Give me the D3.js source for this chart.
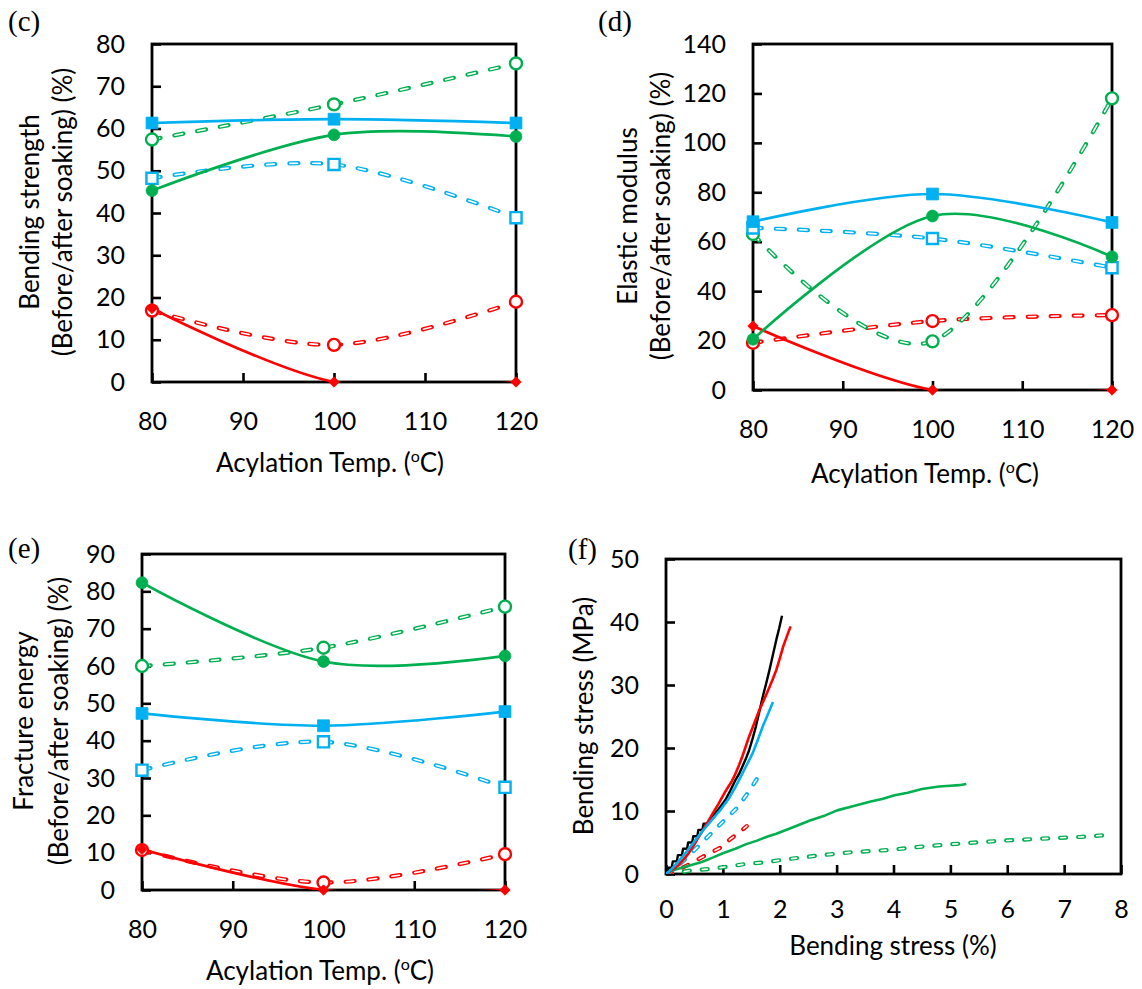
<!DOCTYPE html>
<html>
<head>
<meta charset="utf-8">
<script src="https://cdn.jsdelivr.net/npm/d3@7"></script>
<style>
  body { margin: 0; background: #fff; }
  svg { display: block; }
</style>
</head>
<body>
<svg id="fig" width="1142" height="989"></svg>
<script>
// ---------- data ----------
const temps = [80, 100, 120];
const tempTicks = [80, 90, 100, 110, 120];

// (c) bending strength, before/after soaking (%)
const strengthRedOpen    = [16.9, 8.8, 19.0];
const strengthGreenOpen  = [57.4, 65.7, 75.4];
const strengthBlueOpen   = [48.2, 51.5, 38.9];
const strengthRed        = [17.4, 0, 0];
const strengthGreen      = [45.3, 58.5, 58.1];
const strengthBlue       = [61.3, 62.2, 61.3];
const strengthTicks      = [0, 10, 20, 30, 40, 50, 60, 70, 80];

// (d) elastic modulus, before/after soaking (%)
const modulusRedOpen     = [19.1, 27.9, 30.3];
const modulusGreenOpen   = [63.1, 19.7, 118.0];
const modulusBlueOpen    = [65.6, 61.3, 49.5];
const modulusRed         = [25.9, 0, 0];
const modulusGreen       = [20.5, 70.4, 53.9];
const modulusBlue        = [68.1, 79.3, 67.8];
const modulusTicks       = [0, 20, 40, 60, 80, 100, 120, 140];

// (e) fracture energy, before/after soaking (%)
const energyRedOpen      = [10.7, 2.0, 9.6];
const energyGreenOpen    = [60.0, 64.9, 75.9];
const energyBlueOpen     = [32.1, 39.7, 27.5];
const energyRed          = [10.9, 0, 0];
const energyGreen        = [82.3, 61.2, 62.7];
const energyBlue         = [47.3, 44.0, 47.8];
const energyTicks        = [0, 10, 20, 30, 40, 50, 60, 70, 80, 90];

// (f) stress-strain curves
const strainTicks = [0, 1, 2, 3, 4, 5, 6, 7, 8];
const stressTicks = [0, 10, 20, 30, 40, 50];

const blackStrain = [0, 0.02, 0.04, 0.10, 0.12, 0.19, 0.21, 0.28, 0.30, 0.37, 0.39, 0.46, 0.48, 0.55, 0.57, 0.64, 0.66, 0.74, 0.80, 0.86, 0.95, 1.04, 1.13, 1.22, 1.28, 1.34, 1.40, 1.46, 1.52, 1.58, 1.64, 1.70, 1.76, 1.82, 1.88, 1.94, 1.99, 2.04];
const blackStress = [0, 0.2, 1.0, 1.0, 2.0, 2.0, 3.0, 3.0, 4.0, 4.0, 5.0, 5.0, 6.0, 6.0, 7.0, 7.0, 8.0, 8.0, 9.0, 9.6, 10.6, 11.7, 13.2, 14.9, 15.8, 17.0, 18.2, 19.6, 21.4, 23.4, 25.7, 28.1, 30.2, 32.4, 34.8, 37.2, 39.0, 41.0];

const redStrain = [0, 0.10, 0.21, 0.30, 0.39, 0.48, 0.57, 0.66, 0.75, 0.84, 0.92, 1.00, 1.07, 1.15, 1.22, 1.28, 1.34, 1.40, 1.46, 1.55, 1.64, 1.73, 1.82, 1.88, 1.94, 2.00, 2.06, 2.12, 2.19];
const redStress = [0, 0.6, 1.3, 2.2, 3.2, 4.4, 5.8, 7.1, 8.5, 9.9, 11.1, 12.4, 13.5, 14.6, 15.9, 17.2, 18.6, 20.2, 21.8, 23.9, 26.0, 27.8, 29.7, 31.0, 32.4, 34.2, 36.1, 37.6, 39.3];

const blueStrain = [0, 0.10, 0.20, 0.35, 0.51, 0.65, 0.80, 0.95, 1.10, 1.22, 1.34, 1.43, 1.52, 1.61, 1.70, 1.79, 1.88];
const blueStress = [0, 0.8, 1.8, 3.4, 5.3, 6.9, 8.5, 10.1, 11.9, 13.8, 15.9, 17.5, 19.1, 21.2, 23.4, 25.3, 27.3];

const greenStrain = [0, 0.10, 0.20, 0.40, 0.63, 0.82, 1.00, 1.22, 1.40, 1.60, 1.80, 1.94, 2.20, 2.53, 2.80, 3.01, 3.30, 3.60, 3.80, 4.02, 4.25, 4.50, 4.80, 5.00, 5.15, 5.28];
const greenStress = [0, 0.5, 0.8, 1.3, 1.9, 2.6, 3.3, 4.0, 4.7, 5.3, 6.0, 6.4, 7.3, 8.5, 9.3, 10.1, 10.8, 11.5, 11.9, 12.5, 12.9, 13.5, 13.9, 14.0, 14.1, 14.3];

const blueOpenStrain = [0, 0.20, 0.40, 0.59, 0.79, 1.00, 1.24, 1.45, 1.62, 1.71];
const blueOpenStress = [0, 1.2, 2.9, 4.6, 6.4, 8.3, 10.4, 13.0, 15.4, 16.6];

const redOpenStrain = [0, 0.20, 0.38, 0.62, 0.94, 1.14, 1.30, 1.42];
const redOpenStress = [0, 0.6, 1.4, 2.6, 4.1, 5.6, 6.7, 7.6];

const greenOpenStrain = [0, 0.20, 0.42, 0.75, 1.10, 1.40, 1.76, 2.06, 2.65, 3.25, 3.90, 4.56, 5.28, 5.93, 6.59, 7.30, 7.87];
const greenOpenStress = [0, 0.2, 0.53, 0.8, 1.17, 1.6, 1.86, 2.28, 2.9, 3.45, 3.8, 4.4, 4.9, 5.3, 5.6, 5.9, 6.26];

// ---------- styling ----------
const SANS = "Lato, 'Open Sans', 'DejaVu Sans', sans-serif";
const SERIF = "'Liberation Serif', 'Times New Roman', serif";
const BLUE = '#00B0F0', GREEN = '#00B050', RED = '#FF0000', BLACK = '#000000';
const TICK_FONT = 25, TITLE_FONT = 26;

const svg = d3.select('#fig');
const defs = svg.append('defs');

// Excel-like marker shapes
const markerDefs = {
  squareFilled: { path: d3.symbol().type(d3.symbolSquare).size(140)(), fill: true },
  squareOpen:   { path: d3.symbol().type(d3.symbolSquare).size(124)(), fill: false },
  circleFilled: { path: d3.symbol().type(d3.symbolCircle).size(110)(), fill: true },
  circleOpen:   { path: d3.symbol().type(d3.symbolCircle).size(112)(), fill: false },
  diamond:      { path: d3.symbol().type(d3.symbolSquare).size(54)(), fill: true, rotate: 45 }
};

function makePanel(p) {
  const x = d3.scaleLinear().domain(p.xDomain).range([p.left, p.right]);
  const y = d3.scaleLinear().domain(p.yDomain).range([p.bottom, p.top]);
  const g = svg.append('g').attr('class', 'panel-' + p.id);

  const clipId = 'clip-' + p.id;
  defs.append('clipPath').attr('id', clipId)
    .append('rect')
    .attr('x', p.left).attr('y', p.top)
    .attr('width', p.right - p.left).attr('height', p.bottom - p.top);

  // axes with inward ticks
  const xAxis = d3.axisBottom(x).tickValues(p.xTicks).tickSize(-9).tickSizeOuter(0);
  const yAxis = d3.axisLeft(y).tickValues(p.yTicks).tickSize(-9).tickSizeOuter(0).tickPadding(27);
  const gx = g.append('g').attr('transform', `translate(0,${p.bottom})`).call(xAxis);
  const gy = g.append('g').attr('transform', `translate(${p.left},0)`).call(yAxis);
  [gx, gy].forEach(a => {
    a.attr('font-family', SANS).attr('font-size', TICK_FONT);
    a.select('.domain').remove();
    a.selectAll('.tick line').attr('stroke', BLACK).attr('stroke-width', 2.6);
    a.selectAll('.tick text').attr('fill', BLACK);
  });
  gx.selectAll('.tick text').attr('y', p.xLabelBase).attr('dy', 0);

  // plot frame
  g.append('rect')
    .attr('x', p.left).attr('y', p.top)
    .attr('width', p.right - p.left).attr('height', p.bottom - p.top)
    .attr('fill', 'none').attr('stroke', BLACK).attr('stroke-width', 2.8);

  // series
  const lineLayer = g.append('g').attr('clip-path', `url(#${clipId})`);
  const markLayer = g.append('g');
  p.series.forEach(s => {
    const line = d3.line()
      .x(d => x(d[0])).y(d => y(d[1]))
      .curve(s.smooth ? d3.curveCardinal.tension(0) : d3.curveLinear);
    const dStr = line(s.points);
    const sg = lineLayer.append('g');
    if (s.dashed) {
      const dash = p.dash;
      sg.append('path').attr('d', dStr).attr('fill', 'none')
        .attr('stroke', s.color).attr('stroke-width', dash.outerWidth)
        .attr('stroke-linecap', 'round').attr('stroke-linejoin', 'round')
        .attr('stroke-dasharray', dash.outer.join(' '));
      sg.append('path').attr('d', dStr).attr('fill', 'none')
        .attr('stroke', '#fff').attr('stroke-width', dash.innerWidth)
        .attr('stroke-linecap', 'round').attr('stroke-linejoin', 'round')
        .attr('stroke-dasharray', dash.inner.join(' '))
        .attr('stroke-dashoffset', -0.5);
    } else {
      sg.append('path').attr('d', dStr).attr('fill', 'none')
        .attr('stroke', s.color).attr('stroke-width', s.width || 2.7)
        .attr('stroke-linejoin', 'round');
    }
    if (s.marker) {
      const m = markerDefs[s.marker];
      markLayer.append('g').selectAll('path').data(s.points).join('path')
        .attr('d', m.path)
        .attr('transform', d => `translate(${x(d[0])},${y(d[1])})` + (m.rotate ? ` rotate(${m.rotate})` : ''))
        .attr('fill', m.fill ? s.color : '#fff')
        .attr('stroke', s.color)
        .attr('stroke-width', m.fill ? 0.8 : 2.4);
    }
  });

  // y title (one or two lines, rotated)
  p.yTitle.forEach(t => {
    g.append('text')
      .attr('transform', `translate(${t.x},${t.cy}) rotate(-90)`)
      .attr('text-anchor', 'middle')
      .attr('font-family', SANS).attr('font-size', TITLE_FONT).attr('fill', BLACK)
      .text(t.text);
  });

  // x title
  const xt = g.append('text')
    .attr('x', p.xTitle.cx).attr('y', p.xTitle.y)
    .attr('text-anchor', 'middle')
    .attr('font-family', SANS).attr('font-size', TITLE_FONT).attr('fill', BLACK);
  if (p.xTitle.sup) {
    xt.append('tspan').text(p.xTitle.text);
    xt.append('tspan').attr('font-size', 16).attr('dy', -10).text(p.xTitle.sup);
    xt.append('tspan').attr('dy', 10).text(p.xTitle.tail);
  } else {
    xt.text(p.xTitle.text);
  }

  // panel letter
  g.append('text')
    .attr('x', p.tag.x).attr('y', p.tag.y)
    .attr('font-family', SERIF).attr('font-size', 29).attr('fill', BLACK)
    .text(p.tag.text);
}

const zip = (xs, ys) => xs.map((v, i) => [v, ys[i]]);

function tempSeries(redOpen, greenOpen, blueOpen, red, green, blue) {
  return [
    { points: zip(temps, redOpen),   color: RED,   dashed: true, smooth: true, marker: 'circleOpen' },
    { points: zip(temps, greenOpen), color: GREEN, dashed: true, smooth: true, marker: 'circleOpen' },
    { points: zip(temps, blueOpen),  color: BLUE,  dashed: true, smooth: true, marker: 'squareOpen' },
    { points: zip(temps, red),       color: RED,   smooth: true, marker: 'diamond' },
    { points: zip(temps, green),     color: GREEN, smooth: true, marker: 'circleFilled' },
    { points: zip(temps, blue),      color: BLUE,  smooth: true, marker: 'squareFilled' }
  ];
}

const tempDash = { outer: [9, 14], inner: [7.6, 15.4], outerWidth: 4.2, innerWidth: 1.6 };
const curveDash = { outer: [6, 12], inner: [5, 13], outerWidth: 4.2, innerWidth: 1.6 };

// (c)
makePanel({
  id: 'c', left: 152, right: 516, top: 44, bottom: 382,
  xDomain: [80, 120], yDomain: [0, 80], xTicks: tempTicks, yTicks: strengthTicks,
  xLabelBase: 48, dash: tempDash,
  series: tempSeries(strengthRedOpen, strengthGreenOpen, strengthBlueOpen, strengthRed, strengthGreen, strengthBlue),
  yTitle: [{ text: 'Bending strength', x: 39, cy: 212 }, { text: '(Before/after soaking) (%)', x: 72, cy: 212 }],
  xTitle: { text: 'Acylation Temp. (', sup: 'o', tail: 'C)', cx: 330, y: 472 },
  tag: { text: '(c)', x: 8, y: 31 }
});

// (d)
makePanel({
  id: 'd', left: 753, right: 1112, top: 44, bottom: 390,
  xDomain: [80, 120], yDomain: [0, 140], xTicks: tempTicks, yTicks: modulusTicks,
  xLabelBase: 48, dash: tempDash,
  series: tempSeries(modulusRedOpen, modulusGreenOpen, modulusBlueOpen, modulusRed, modulusGreen, modulusBlue),
  yTitle: [{ text: 'Elastic modulus', x: 637, cy: 216 }, { text: '(Before/after soaking) (%)', x: 670, cy: 216 }],
  xTitle: { text: 'Acylation Temp. (', sup: 'o', tail: 'C)', cx: 925, y: 483 },
  tag: { text: '(d)', x: 598, y: 31 }
});

// (e)
makePanel({
  id: 'e', left: 142, right: 505, top: 554, bottom: 890,
  xDomain: [80, 120], yDomain: [0, 90], xTicks: tempTicks, yTicks: energyTicks,
  xLabelBase: 48, dash: tempDash,
  series: tempSeries(energyRedOpen, energyGreenOpen, energyBlueOpen, energyRed, energyGreen, energyBlue),
  yTitle: [{ text: 'Fracture energy', x: 33, cy: 721 }, { text: '(Before/after soaking) (%)', x: 68, cy: 721 }],
  xTitle: { text: 'Acylation Temp. (', sup: 'o', tail: 'C)', cx: 320, y: 980 },
  tag: { text: '(e)', x: 8, y: 558 }
});

// (f)
makePanel({
  id: 'f', left: 666, right: 1121, top: 559, bottom: 874,
  xDomain: [0, 8], yDomain: [0, 50], xTicks: strainTicks, yTicks: stressTicks,
  xLabelBase: 44, dash: curveDash,
  series: [
    { points: zip(greenOpenStrain, greenOpenStress), color: GREEN, dashed: true },
    { points: zip(redOpenStrain, redOpenStress),     color: RED,   dashed: true },
    { points: zip(blueOpenStrain, blueOpenStress),   color: BLUE,  dashed: true },
    { points: zip(greenStrain, greenStress),         color: GREEN, width: 2.6 },
    { points: zip(blackStrain, blackStress),         color: BLACK, width: 2.4 },
    { points: zip(redStrain, redStress),             color: RED,   width: 2.6 },
    { points: zip(blueStrain, blueStress),           color: BLUE,  width: 2.6 }
  ],
  yTitle: [{ text: 'Bending stress (MPa)', x: 593, cy: 716 }],
  xTitle: { text: 'Bending stress (%)', cx: 893, y: 955 },
  tag: { text: '(f)', x: 568, y: 559 }
});
</script>
</body>
</html>
